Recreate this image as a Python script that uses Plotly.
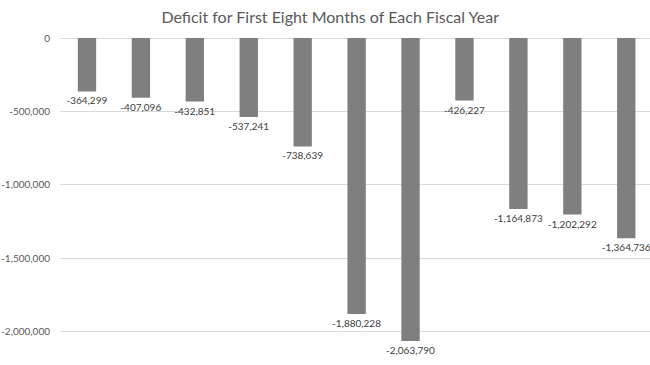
import plotly.graph_objects as go

years = ["FY2015", "FY2016", "FY2017", "FY2018", "FY2019", "FY2020",
         "FY2021", "FY2022", "FY2023", "FY2024", "FY2025"]
deficits = [-364299, -407096, -432851, -537241, -738639, -1880228,
            -2063790, -426227, -1164873, -1202292, -1364736]
labels = [f"{v:,}" for v in deficits]
y_ticks = [0, -500000, -1000000, -1500000, -2000000]
y_tick_text = ["0", "-500,000", "-1,000,000", "-1,500,000", "-2,000,000"]

font_family = "Lato, Open Sans, Arial, sans-serif"

fig = go.Figure(go.Bar(
    x=years, y=deficits, text=labels, textposition="outside",
    textfont=dict(size=10, color="#404040", family=font_family),
    constraintext="none",
    marker=dict(color="#7f7f7f", line=dict(width=0)),
    cliponaxis=False,
))

fig.update_layout(
    width=650, height=365,
    margin=dict(l=60, r=0, t=38, b=4, autoexpand=False),
    paper_bgcolor="white", plot_bgcolor="white",
    bargap=0.66,
    showlegend=False,
    title=dict(text="Deficit for First Eight Months of Each Fiscal Year",
               x=0.508, xanchor="center", y=0.953, yanchor="middle",
               font=dict(size=16, color="#595959", family=font_family)),
    xaxis=dict(showticklabels=False, showgrid=False, zeroline=False,
               showline=False, ticks="", range=[-0.5, 10.44]),
    yaxis=dict(range=[-2200000, 0], tickvals=y_ticks, ticktext=y_tick_text,
               showgrid=True, gridcolor="#d9d9d9", gridwidth=1,
               zeroline=True, zerolinecolor="#d9d9d9", zerolinewidth=1,
               showline=False, ticks="", ticklabelstandoff=9,
               tickfont=dict(size=10, color="#595959", family=font_family)),
)

fig.write_html("out.html",
               config={"displayModeBar": False},
               post_script="document.body.style.margin='0';document.body.style.padding='0';")
